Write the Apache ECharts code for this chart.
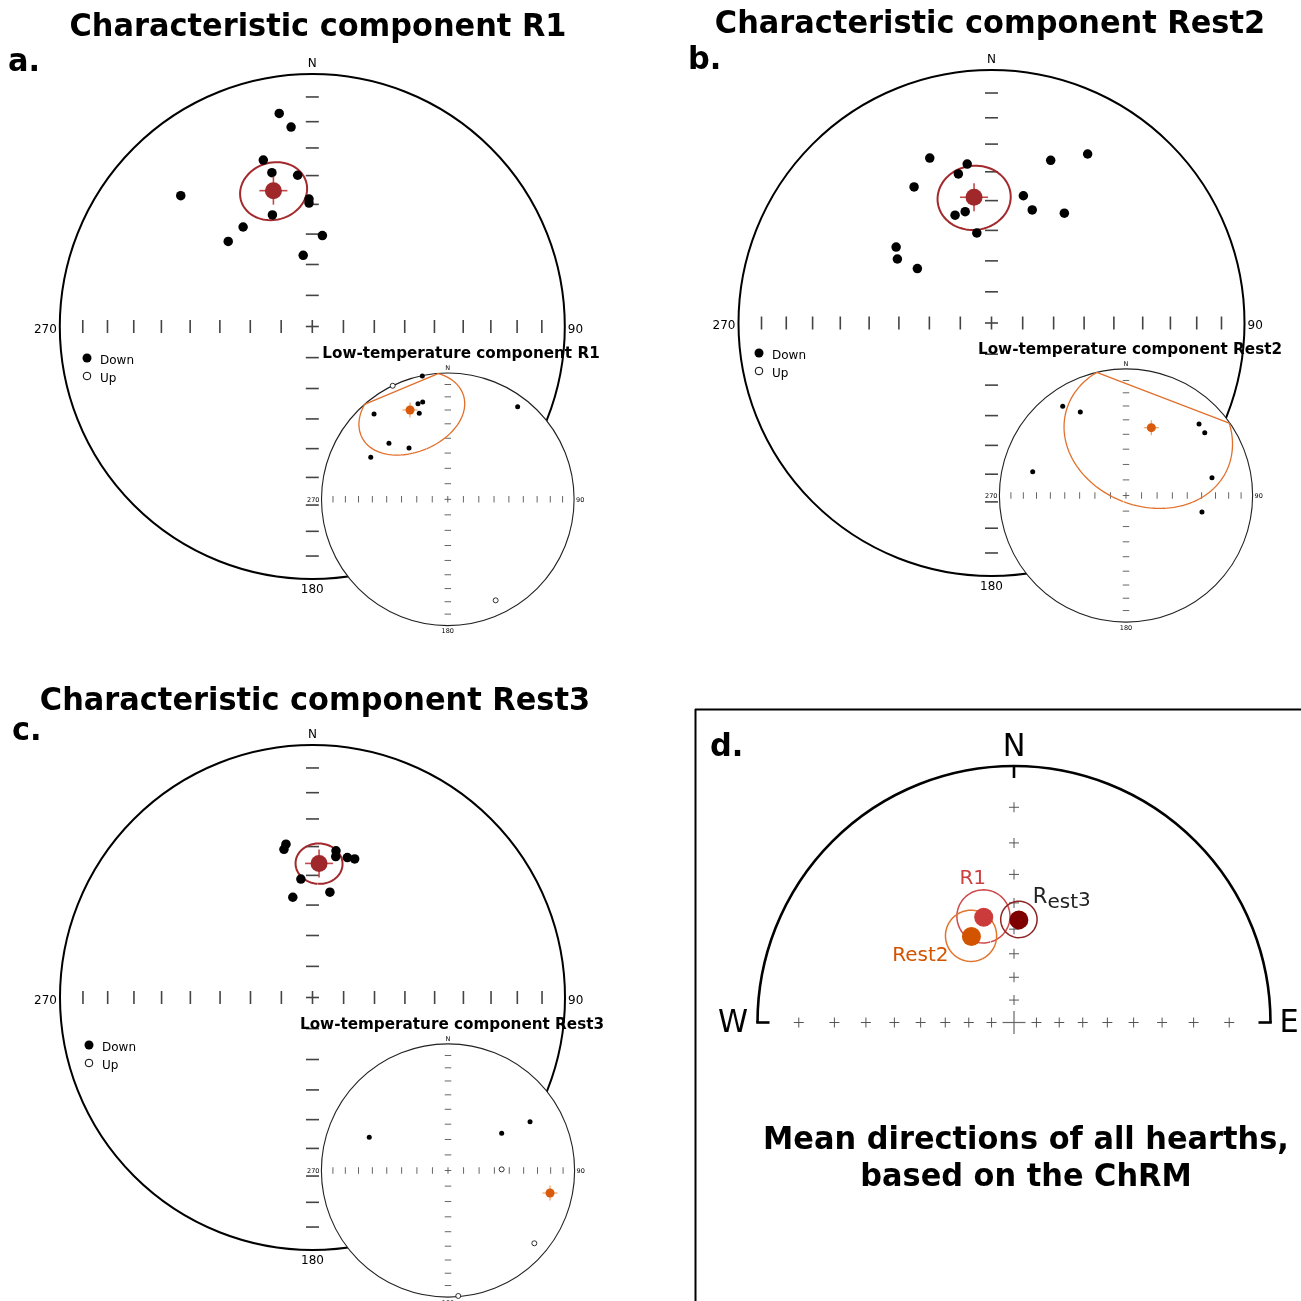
<!DOCTYPE html>
<html>
<head>
<meta charset="utf-8">
<script src="https://cdn.jsdelivr.net/npm/echarts@6/dist/echarts.min.js"></script>
<style>
html,body{margin:0;padding:0;background:#ffffff;}
#chart{width:1301px;height:1301px;}
</style>
</head>
<body>
<div id="chart"></div>
<script>
// ---------------- DATA (projected positions: [east, north] in units of the net radius) ----------------
// graduation inclinations (degrees) marked along the net axes
const TICK_INCS = [10, 20, 30, 40, 50, 60, 70, 80];

// a. R1 – characteristic component (equal-area, lower hemisphere)
const R1_CHRM = [[-0.131,0.844],[-0.084,0.790],[-0.194,0.659],[-0.160,0.609],[-0.058,0.599],[-0.521,0.518],
  [-0.013,0.505],[-0.013,0.489],[-0.158,0.442],[-0.274,0.394],[-0.333,0.337],[0.040,0.360],[-0.036,0.282]];
const R1_CHRM_MEAN = [-0.154, 0.538];
const R1_CHRM_A95 = 10;
// a. R1 – low-temperature component
const R1_LT_DOWN = [[-0.202,0.976],[-0.236,0.757],[-0.199,0.770],[-0.226,0.681],[-0.584,0.675],[0.553,0.733],
  [-0.466,0.443],[-0.307,0.406],[-0.610,0.333]];
const R1_LT_UP = [[-0.436,0.899],[0.379,-0.800]];
const R1_LT_MEAN = [-0.299, 0.707];
const R1_LT_A95 = 30;

// b. Rest2 – characteristic component
const REST2_CHRM = [[-0.244,0.652],[-0.096,0.628],[-0.131,0.589],[-0.306,0.538],[0.234,0.643],[0.380,0.668],
  [0.126,0.503],[0.161,0.447],[0.288,0.434],[-0.104,0.440],[-0.144,0.426],[-0.058,0.356],[-0.377,0.300],
  [-0.372,0.253],[-0.293,0.215]];
const REST2_CHRM_MEAN = [-0.069, 0.497];
const REST2_CHRM_A95 = 11;
// b. Rest2 – low-temperature component
const REST2_LT_DOWN = [[-0.500,0.705],[-0.361,0.660],[-0.737,0.188],[0.577,0.565],[0.622,0.496],[0.679,0.141],[0.600,-0.130]];
const REST2_LT_UP = [];
const REST2_LT_MEAN = [0.200, 0.536];
const REST2_LT_A95 = 52;

// c. Rest3 – characteristic component
const REST3_CHRM = [[-0.105,0.607],[-0.113,0.587],[0.093,0.581],[0.092,0.558],[0.138,0.554],[0.167,0.549],
  [-0.046,0.469],[-0.078,0.397],[0.069,0.417]];
const REST3_CHRM_MEAN = [0.026, 0.531];
const REST3_CHRM_A95 = 7;
// c. Rest3 – low-temperature component
const REST3_LT_DOWN = [[-0.622,0.262],[0.424,0.294],[0.648,0.385]];
const REST3_LT_UP = [[0.424,0.009],[0.682,-0.575],[0.081,-0.991]];
const REST3_LT_MEAN = [0.806, -0.178];
const REST3_LT_A95 = null;

// d. mean directions of all hearths (stereographic, upper half shown)
const MEAN_NAMES = ['R1', 'Rest2', 'Rest3'];
const MEAN_POS = [[-0.118, 0.410], [-0.166, 0.335], [0.019, 0.400]];
const MEAN_A95 = [10, 10, 7];

// ---------------- LAYOUT / STYLE ----------------
const FONT = '"DejaVu Sans", "Liberation Sans", sans-serif';
const LAYOUT = [
  {cx:312.3, cy:326.5, R:252.5},   // 0 a main
  {cx:991.5, cy:323.0, R:253.0},   // 1 b main
  {cx:312.5, cy:997.5, R:252.5},   // 2 c main
  {cx:447.8, cy:499.3, R:126.3},   // 3 a inset
  {cx:1126.0, cy:495.5, R:126.6},  // 4 b inset
  {cx:448.0, cy:1170.5, R:126.6},  // 5 c inset
  {cx:1014.0, cy:1022.5, R:256.5}  // 6 d
];
const D2R = Math.PI / 180;
const EA = { fwd: t => Math.SQRT2 * Math.sin(t / 2), inv: r => 2 * Math.asin(Math.min(1, r / Math.SQRT2)) };
const ST = { fwd: t => Math.tan(t / 2), inv: r => 2 * Math.atan(r) };

function toDir(p, proj) {
  const dec = Math.atan2(p[0], p[1]);
  const th = proj.inv(Math.hypot(p[0], p[1]));
  return {dec: dec, inc: Math.PI / 2 - th};
}
// confidence cone (small circle of radius a95 around the mean), lower hemisphere part
function cone(p, a95, proj) {
  const d = toDir(p, proj);
  const ci = Math.cos(d.inc), si = Math.sin(d.inc), cd = Math.cos(d.dec), sd = Math.sin(d.dec);
  const m = [ci * cd, ci * sd, si];
  const u = [-si * cd, -si * sd, ci];
  const v = [-sd, cd, 0];
  const a = a95 * D2R, out = [];
  for (let k = 0; k <= 720; k++) {
    const t = k * 0.5 * D2R;
    const q = [0, 1, 2].map(i => Math.cos(a) * m[i] + Math.sin(a) * (Math.cos(t) * u[i] + Math.sin(t) * v[i]));
    const inc = Math.asin(Math.max(-1, Math.min(1, q[2])));
    if (inc < 0) continue;
    const dec = Math.atan2(q[1], q[0]);
    const r = proj.fwd(Math.PI / 2 - inc);
    out.push([r * Math.sin(dec), r * Math.cos(dec)]);
  }
  return out;
}

const series = [];
const graphic = [];

function sc(gi, data, extra) {
  const s = Object.assign({type:'scatter', xAxisIndex:gi, yAxisIndex:gi, data:data, silent:true, clip:false, animation:false}, extra);
  s.itemStyle = Object.assign({opacity:1}, s.itemStyle || {});
  series.push(s);
}
function addTicks(gi, proj, len, w, color, z) {
  const rs = TICK_INCS.map(I => proj.fwd((90 - I) * D2R));
  const hx = [[0,0]], vy = [[0,0]];
  rs.forEach(r => { hx.push([r,0]); hx.push([-r,0]); vy.push([0,r]); vy.push([0,-r]); });
  sc(gi, hx, {symbol:'rect', symbolSize:[w,len], itemStyle:{color:color}, z:z});
  sc(gi, vy, {symbol:'rect', symbolSize:[len,w], itemStyle:{color:color}, z:z});
}
function txt(x, y, text, font, align, z, extra) {
  graphic.push(Object.assign({type:'text', x:x, y:y, z:z || 30,
    style:{text:text, font:font, fill:'#000', align:align || 'center', verticalAlign:'middle',
      textAlign:align || 'center', textVerticalAlign:'middle'}}, extra || {}));
}

function mainNet(gi, pts, mean, a95) {
  const L = LAYOUT[gi];
  graphic.push({type:'circle', z:1, shape:{cx:L.cx, cy:L.cy, r:L.R}, style:{fill:'none', stroke:'#000', lineWidth:2}});
  addTicks(gi, EA, 13, 1.6, '#444', 2);
  series.push({type:'line', xAxisIndex:gi, yAxisIndex:gi, data:cone(mean, a95, EA), symbol:'none', showSymbol:false,
    lineStyle:{color:'#a3292c', width:2}, z:3, silent:true, clip:false, animation:false});
  sc(gi, pts, {symbol:'circle', symbolSize:9.5, itemStyle:{color:'#000'}, z:4});
  sc(gi, [mean], {symbol:'rect', symbolSize:[28,1.6], itemStyle:{color:'#c24a4c'}, z:5});
  sc(gi, [mean], {symbol:'rect', symbolSize:[1.6,28], itemStyle:{color:'#c24a4c'}, z:5});
  sc(gi, [mean], {symbol:'circle', symbolSize:17, itemStyle:{color:'#a0282a'}, z:6});
  const f = '12px ' + FONT;
  txt(L.cx, L.cy - L.R - 10, 'N', f, 'center', 7);
  txt(L.cx, L.cy + L.R + 11, '180', f, 'center', 7);
  txt(L.cx - L.R - 3, L.cy + 3, '270', f, 'right', 7);
  txt(L.cx + L.R + 3, L.cy + 3, '90', f, 'left', 7);
}
function insetNet(gi, down, up, mean, a95, title, titlePos) {
  const L = LAYOUT[gi];
  graphic.push({type:'circle', z:10, shape:{cx:L.cx, cy:L.cy, r:L.R}, style:{fill:'#fff', stroke:'#222', lineWidth:1.1}});
  addTicks(gi, EA, 6.5, 0.9, '#555', 11);
  if (a95) {
    series.push({type:'line', xAxisIndex:gi, yAxisIndex:gi, data:cone(mean, a95, EA), symbol:'none', showSymbol:false,
      lineStyle:{color:'#e2702c', width:1.3}, z:12, silent:true, clip:false, animation:false});
  }
  sc(gi, down, {symbol:'circle', symbolSize:5, itemStyle:{color:'#000'}, z:13});
  sc(gi, up, {symbol:'circle', symbolSize:5, itemStyle:{color:'#fff', borderColor:'#000', borderWidth:0.8}, z:13});
  sc(gi, [mean], {symbol:'rect', symbolSize:[15,1.2], itemStyle:{color:'#f3a266'}, z:14});
  sc(gi, [mean], {symbol:'rect', symbolSize:[1.2,15], itemStyle:{color:'#f3a266'}, z:14});
  sc(gi, [mean], {symbol:'circle', symbolSize:9, itemStyle:{color:'#d95a0a'}, z:15});
  const f = '6.5px ' + FONT;
  txt(L.cx, L.cy - L.R - 5, 'N', f, 'center', 16);
  txt(L.cx, L.cy + L.R + 6, '180', f, 'center', 16);
  txt(L.cx - L.R - 2, L.cy + 1, '270', f, 'right', 16);
  txt(L.cx + L.R + 2, L.cy + 1, '90', f, 'left', 16);
  txt(titlePos[0], titlePos[1], title, 'bold 16px ' + FONT, 'center', 17, {scaleX:0.95});
}
function legend(x, y) {
  graphic.push({type:'circle', z:7, shape:{cx:x, cy:y, r:4.5}, style:{fill:'#000'}});
  graphic.push({type:'circle', z:7, shape:{cx:x, cy:y + 18, r:3.8}, style:{fill:'#fff', stroke:'#000', lineWidth:1}});
  txt(x + 13, y + 3, 'Down', '12px ' + FONT, 'left', 7);
  txt(x + 13, y + 21, 'Up', '12px ' + FONT, 'left', 7);
}

// ----- panels a, b, c -----
mainNet(0, R1_CHRM, R1_CHRM_MEAN, R1_CHRM_A95);
mainNet(1, REST2_CHRM, REST2_CHRM_MEAN, REST2_CHRM_A95);
mainNet(2, REST3_CHRM, REST3_CHRM_MEAN, REST3_CHRM_A95);
legend(87, 358); legend(759, 353); legend(89, 1045);
insetNet(3, R1_LT_DOWN, R1_LT_UP, R1_LT_MEAN, R1_LT_A95, 'Low-temperature component R1', [461, 354]);
insetNet(4, REST2_LT_DOWN, REST2_LT_UP, REST2_LT_MEAN, REST2_LT_A95, 'Low-temperature component Rest2', [1130, 350]);
insetNet(5, REST3_LT_DOWN, REST3_LT_UP, REST3_LT_MEAN, REST3_LT_A95, 'Low-temperature component Rest3', [452, 1025]);

const TF = 'bold 32px ' + FONT;
txt(318, 28, 'Characteristic component R1', TF, 'center', 30, {scaleX:0.95});
txt(990, 25, 'Characteristic component Rest2', TF, 'center', 30, {scaleX:0.95});
txt(315, 702, 'Characteristic component Rest3', TF, 'center', 30, {scaleX:0.95});
txt(8, 63, 'a.', TF, 'left', 30, {scaleX:0.95});
txt(688, 61, 'b.', TF, 'left', 30, {scaleX:0.95});
txt(12, 732, 'c.', TF, 'left', 30, {scaleX:0.95});

// ----- panel d -----
(function () {
  const gi = 6, L = LAYOUT[gi];
  graphic.push({type:'line', z:1, shape:{x1:695.5, y1:709, x2:695.5, y2:1301}, style:{stroke:'#000', lineWidth:2}});
  graphic.push({type:'line', z:1, shape:{x1:695, y1:709.5, x2:1301, y2:709.5}, style:{stroke:'#000', lineWidth:2}});
  graphic.push({type:'arc', z:2, shape:{cx:L.cx, cy:L.cy, r:L.R, startAngle:Math.PI, endAngle:2 * Math.PI, clockwise:true},
    style:{fill:'none', stroke:'#000', lineWidth:2.6}});
  graphic.push({type:'line', z:2, shape:{x1:L.cx, y1:L.cy - L.R, x2:L.cx, y2:L.cy - L.R + 12}, style:{stroke:'#000', lineWidth:2.6}});
  graphic.push({type:'line', z:2, shape:{x1:L.cx - L.R - 1.3, y1:L.cy, x2:L.cx - L.R + 12, y2:L.cy}, style:{stroke:'#000', lineWidth:2.6}});
  graphic.push({type:'line', z:2, shape:{x1:L.cx + L.R + 1.3, y1:L.cy, x2:L.cx + L.R - 12, y2:L.cy}, style:{stroke:'#000', lineWidth:2.6}});
  const rs = TICK_INCS.map(I => ST.fwd((90 - I) * D2R));
  const pl = [];
  rs.forEach(r => { pl.push([r,0]); pl.push([-r,0]); pl.push([0,r]); });
  sc(gi, pl, {symbol:'rect', symbolSize:[10,1], itemStyle:{color:'#555'}, z:3});
  sc(gi, pl, {symbol:'rect', symbolSize:[1,10], itemStyle:{color:'#555'}, z:3});
  sc(gi, [[0,0]], {symbol:'rect', symbolSize:[23,1.2], itemStyle:{color:'#666'}, z:3});
  sc(gi, [[0,0]], {symbol:'rect', symbolSize:[1.2,23], itemStyle:{color:'#666'}, z:3});
  const DOT = ['#cc3b3b', '#d35400', '#7f0000'];
  const RING = ['#cf4a4a', '#e2752e', '#8e2424'];
  MEAN_NAMES.forEach((n, i) => {
    series.push({type:'line', xAxisIndex:gi, yAxisIndex:gi, data:cone(MEAN_POS[i], MEAN_A95[i], ST), symbol:'none', showSymbol:false,
      lineStyle:{color:RING[i], width:1.5}, z:4, silent:true, clip:false, animation:false});
  });
  const labelCfg = [
    {show:true, position:'inside', offset:[-11,-39], formatter:'{n|R1}', rich:{n:{fontSize:20, fontFamily:FONT, color:'#cc4040'}}},
    {show:true, position:'inside', offset:[-51,19], formatter:'{n|Rest2}', rich:{n:{fontSize:20, fontFamily:FONT, color:'#d35400'}}},
    {show:true, position:'inside', offset:[14,-20], align:'left', formatter:'{a|R}{b|est}{c|3}',
      rich:{a:{fontSize:21, fontFamily:FONT, color:'#222', verticalAlign:'bottom', padding:[0,0,5,0]},
            b:{fontSize:20, fontFamily:FONT, color:'#222', verticalAlign:'bottom'},
            c:{fontSize:20, fontFamily:FONT, color:'#222', verticalAlign:'bottom', padding:[0,0,2,0]}}}
  ];
  sc(gi, MEAN_NAMES.map((n, i) => ({name:n, value:MEAN_POS[i], itemStyle:{color:DOT[i], opacity:1}, label:labelCfg[i]})),
    {symbol:'circle', symbolSize:19, z:6});
  const big = '32px ' + FONT;
  txt(L.cx, 748, 'N', big, 'center', 30, {scaleX:0.95});
  txt(733, 1024, 'W', big, 'center', 30, {scaleX:0.95});
  txt(1289, 1024, 'E', big, 'center', 30, {scaleX:0.95});
  txt(710, 748, 'd.', TF, 'left', 30, {scaleX:0.95});
  txt(1026, 1141, 'Mean directions of all hearths,', TF, 'center', 30, {scaleX:0.95});
  txt(1026, 1178, 'based on the ChRM', TF, 'center', 30, {scaleX:0.95});
})();

const chart = echarts.init(document.getElementById('chart'), null, {renderer:'canvas'});
chart.setOption({
  animation:false,
  backgroundColor:'#ffffff',
  grid: LAYOUT.map(L => ({left:L.cx - L.R, top:L.cy - L.R, width:2 * L.R, height:2 * L.R})),
  xAxis: LAYOUT.map((L, i) => ({gridIndex:i, type:'value', min:-1, max:1, show:false})),
  yAxis: LAYOUT.map((L, i) => ({gridIndex:i, type:'value', min:-1, max:1, show:false})),
  series: series,
  graphic: graphic
});
</script>
</body>
</html>
